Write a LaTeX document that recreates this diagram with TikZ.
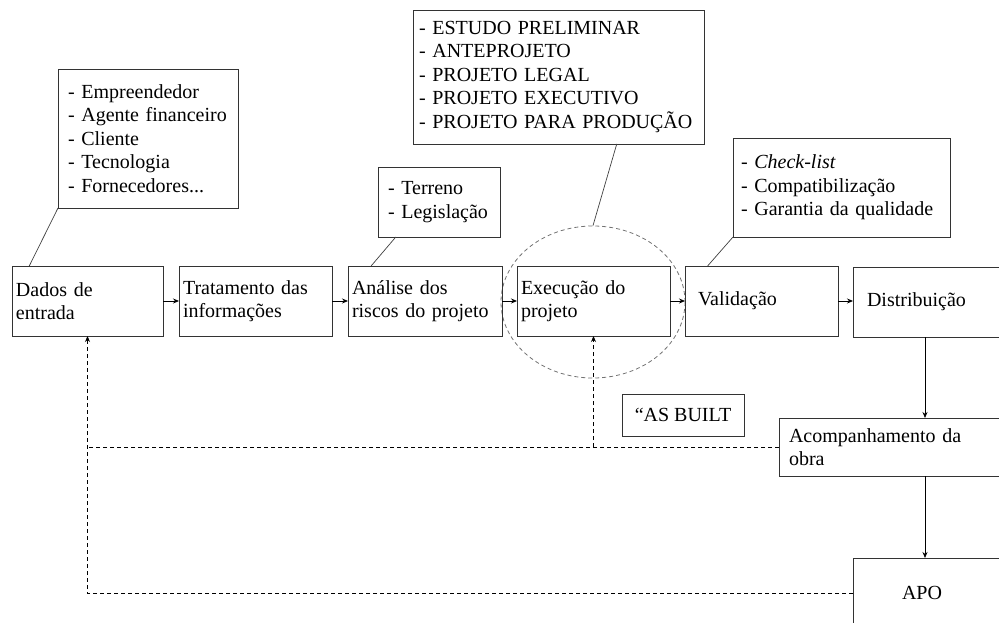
\documentclass[tikz,border=0pt]{standalone}
\usepackage{fontspec}
\setmainfont{Liberation Serif}
\usetikzlibrary{arrows.meta,shapes.geometric}

\tikzset{
	caixa/.style={draw=black!80,line width=0.8pt,inner xsep=4pt,inner ysep=0pt,outer sep=0pt,align=left,font=\fontsize{20}{23.5}\selectfont},
	seta/.style={-{Stealth[length=6pt,width=5pt]},line width=0.8pt},
	retorno/.style={line width=0.8pt,dash pattern=on 4pt off 3pt},
	liga/.style={line width=0.7pt,draw=black!75},
}

\begin{document}
\begin{tikzpicture}[x=1pt,y=-1pt]
		\useasboundingbox (0,0) rectangle (999,623);
		\clip (0,0) rectangle (999,623);
		\node[draw=black!55,line width=0.8pt,dash pattern=on 4pt off 3pt,ellipse,inner sep=0pt,minimum width=184pt,minimum height=152pt] (foco) at (593,302) {};
		\node[caixa,text width=143pt,minimum height=70pt] (dados) at (87.5,301) {Dados de\\entrada};
		\node[caixa,text width=145pt,minimum height=70pt] (trat) at (255.5,301) {Tratamento das\\informações};
		\node[caixa,text width=146pt,minimum height=70pt] (anal) at (425,301) {Análise dos\\riscos do projeto};
		\node[caixa,text width=145pt,minimum height=70pt] (exec) at (593.5,301) {Execução do\\projeto};
		\node[caixa,inner xsep=13pt,text width=127pt,minimum height=70pt] (valid) at (761.5,301) {Validação};
		\node[caixa,inner xsep=14pt,text width=125pt,minimum height=70pt] (distr) at (929.5,302) {Distribuição};
		\node[caixa,inner xsep=10pt,text width=211pt,minimum height=58pt] (acomp) at (894.5,447) {Acompanhamento da\\obra};
		\node[caixa,inner xsep=49pt,text width=59pt,minimum height=70pt] (apo) at (931.5,593) {APO};
		\node[caixa,minimum width=122pt,minimum height=42pt] (asbuilt) at (683,415) {“AS BUILT};
		\node[caixa,inner xsep=10pt,text width=160pt,minimum height=139pt] (infodados) at (148,138.5) {- Empreendedor\\- Agente financeiro\\- Cliente\\- Tecnologia\\- Fornecedores...};
		\node[caixa,inner xsep=10pt,text width=102pt,minimum height=70pt] (infoterreno) at (439,202) {- Terreno\\- Legislação};
		\node[caixa,inner xsep=6pt,text width=279pt,minimum height=134pt] (fases) at (558.5,77) {- ESTUDO PRELIMINAR\\- ANTEPROJETO\\- PROJETO LEGAL\\- PROJETO EXECUTIVO\\- PROJETO PARA PRODUÇÃO};
		\node[caixa,inner xsep=8pt,text width=201pt,minimum height=99pt] (check) at (841.5,187.5) {- \textit{Check-list}\\- Compatibilização\\- Garantia da qualidade};
		\coordinate (eixo) at (925,0);
		\draw[seta] (dados.east) -- (trat.west);
		\draw[seta] (trat.east) -- (anal.west);
		\draw[seta] (anal.east) -- (exec.west);
		\draw[seta] (exec.east) -- (valid.west);
		\draw[seta] (valid.east) -- (valid.east -| distr.west);
		\draw[seta] (distr.south -| eixo) -- (acomp.north -| eixo);
		\draw[seta] (acomp.south -| eixo) -- (apo.north -| eixo);
		\draw[retorno] (acomp.west) -- (acomp.west -| dados.south);
		\draw[retorno,seta] (acomp.west -| exec.south) -- (exec.south);
		\draw[retorno,seta] (apo.west) -- (apo.west -| dados.south) -- (dados.south);
		\draw[liga] (infodados.south west) -- (dados.149);
		\draw[liga] (infoterreno.-141) -- (anal.147);
		\draw[liga] (fases.-49) -- (foco.north);
		\draw[liga] (check.south west) -- (valid.147);
	\end{tikzpicture}
\end{document}
